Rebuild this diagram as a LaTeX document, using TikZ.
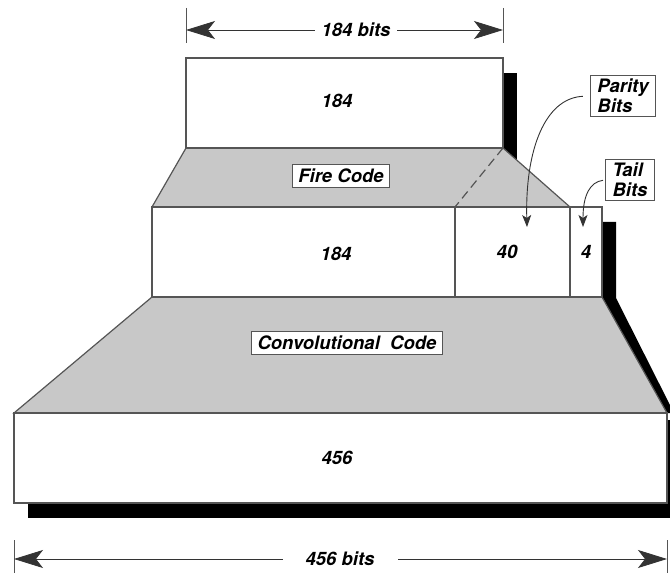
\documentclass[tikz,border=0pt]{standalone}
\usepackage{fontspec}
\setmainfont{TeX Gyre Heros}
\usetikzlibrary{arrows.meta}
\definecolor{codegray}{RGB}{200,200,200}
\definecolor{edgegray}{RGB}{85,85,85}

\begin{document}
\begin{tikzpicture}[x=1pt, y=-1pt,
    font=\fontsize{18.5}{20}\selectfont\bfseries\itshape,
    cell/.style={draw=edgegray, line width=1.2pt, fill=white},
    coding/.style={draw=edgegray, line width=1.2pt, fill=codegray},
    tag/.style={draw=edgegray, line width=1pt, fill=white, inner xsep=6pt, inner ysep=5pt, align=left},
    tick/.style={draw=edgegray, line width=0.8pt},
    dimline/.style={draw=black!80, line width=0.8pt, {Stealth[length=29pt, width=18pt, inset=7pt]}-{Stealth[length=29pt, width=18pt, inset=7pt]}},
    pointer/.style={draw=black!80, line width=0.9pt, -{Stealth[length=12pt, width=9pt, inset=3pt]}}]
  \useasboundingbox (0,0) rectangle (670,575);
  \clip (0,0) rectangle (670,575);

  % Draw the black shadows first, the blocks are drawn over them.
  \fill[black] (503,73) rectangle (517,170);
  \fill[black] (602,222) -- (616,222) -- (616,298) -- (674,413) -- (602,413) -- cycle;
  \fill[black] (28,503) rectangle (682,518);
  \fill[black] (667,420) rectangle (682,518);

  % Draw the two coding stages (gray trapezoids).
  \draw[coding] (152,297) -- (602,297) -- (667,413) -- (14,413) -- cycle;
  \draw[coding] (186,148) -- (503,148) -- (570,207) -- (152,207) -- cycle;
  \draw[edgegray, line width=1.2pt, dashed, dash pattern=on 9pt off 5pt] (503,148) -- (455,207);

  % Draw the blocks of bits.
  \draw[cell] (186,58) rectangle (503,148);
  \draw[cell] (152,207) rectangle (455,297);
  \draw[cell] (455,207) rectangle (570,297);
  \draw[cell] (570,207) rectangle (602,297);
  \draw[cell] (14,413) rectangle (667,503);

  % Label the blocks.
  \node (data) at (337,101) {184};
  \node (info) at (336,254) {184};
  \node (parity) at (507,252) {40};
  \node (tail) at (586,252) {4};
  \node (frame) at (337,458) {456};
  \node[tag] (fire) at (341,176) {Fire Code};
  \node[tag] (conv) at (347,343) {Convolutional\ \ Code};

  % Draw the dimension arrows at the top and at the bottom.
  \draw[tick] (186,8) -- (186,43);
  \draw[tick] (503,8) -- (503,43);
  \coordinate (topL) at (186,30);
  \coordinate (topR) at (503,30);
  \draw[dimline] (topL) -- (topR);
  \node[fill=white, minimum width=82pt, inner sep=2pt] (topbits) at (356,30) {184 bits};

  \draw[tick] (14,540) -- (14,573);
  \draw[tick] (667,540) -- (667,573);
  \coordinate (botL) at (14,559);
  \coordinate (botR) at (667,559);
  \draw[dimline] (botL) -- (botR);
  \node[fill=white, minimum width=115pt, inner sep=2pt] (botbits) at (340,559) {456 bits};

  % Point the callouts at the parity bits and the tail bits.
  \node[tag, inner xsep=7pt, inner ysep=4pt] (paritytag) at (623,96) {Parity\\Bits};
  \node[tag, inner xsep=7pt, inner ysep=4pt] (tailtag) at (630,180) {Tail\\Bits};
  \coordinate (paritytip) at (527,227);
  \coordinate (tailtip) at (583,227);
  \draw[pointer, shorten <=7pt] (paritytag.west) .. controls (545,98) and (525,150) .. (paritytip);
  \draw[pointer, shorten <=2pt] (tailtag.west) .. controls (590,182) and (583,195) .. (tailtip);
\end{tikzpicture}
\end{document}
